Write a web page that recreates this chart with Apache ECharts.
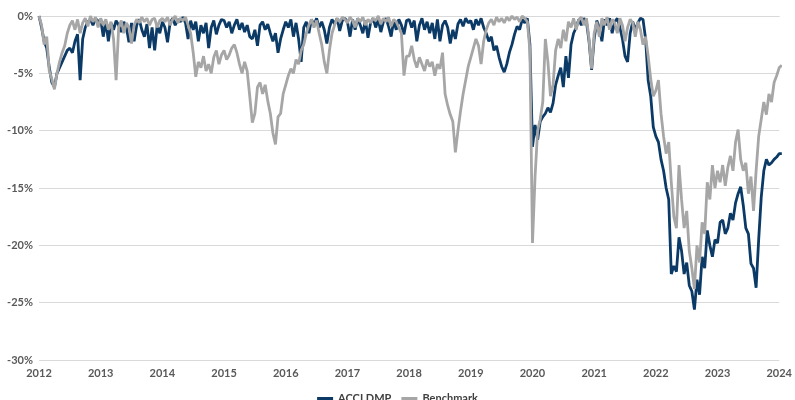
<!DOCTYPE html>
<html>
<head>
<meta charset="utf-8">
<script src="https://cdn.jsdelivr.net/npm/echarts@6/dist/echarts.min.js"></script>
<style>
  html, body { margin: 0; padding: 0; background: #fff; }
  #chart { width: 795px; height: 400px; }
</style>
</head>
<body>
<div id="chart"></div>
<script>
// drawdown in %, one value every half month starting Jan 2012
const startYear = 2012;
const pointsPerYear = 24;
const seriesNames = ['ACCI DMP', 'Benchmark'];
const yearTicks = [2012, 2013, 2014, 2015, 2016, 2017, 2018, 2019, 2020, 2021, 2022, 2023, 2024];

const acci = [
  // 2012
  0, -1.0, -2.2, -2.8, -4.5, -5.8, -6.2, -5.0, -4.5, -4.0, -3.5, -3.0, -2.8, -3.2, -2.2, -1.6, -5.6, -2.0, -1.0, -0.5, -0.3, -0.8, -0.2, -0.5,
  // 2013
  -0.3, -1.8, -0.5, -2.2, -0.6, -1.2, -0.4, -0.8, -1.4, -0.5, -1.0, -2.3, -0.6, -2.2, -0.8, -0.3, -1.2, -1.8, -0.7, -2.8, -1.0, -3.0, -0.8, -1.5,
  // 2014
  -0.5, -1.0, -2.3, -0.6, -0.2, -0.8, -0.3, -0.5, -0.1, -0.6, -2.0, -0.4, -1.2, -0.5, -2.2, -0.8, -1.5, -0.6, -2.8, -1.0, -0.4, -1.6, -0.8, -0.3,
  // 2015
  -0.4, -1.0, -0.5, -1.5, -0.8, -0.3, -1.2, -0.6, -1.4, -0.8, -1.8, -2.0, -1.2, -2.6, -0.8, -0.5, -1.2, -0.7, -1.5, -2.2, -1.5, -3.2, -2.0, -1.2,
  // 2016
  -0.5, -1.0, -0.3, -1.8, -0.6, -2.0, -4.0, -1.0, -0.5, -1.5, -0.3, -0.8, -0.2, -1.0, -0.5, -1.2, -2.4, -1.0, -0.3, -0.7, -0.2, -1.3, -0.4, -0.2,
  // 2017
  -0.5, -1.8, -0.3, -1.2, -0.2, -0.8, -1.5, -0.4, -1.9, -0.6, -0.2, -1.0, -0.3, -1.4, -0.5, -0.2, -0.9, -1.8, -0.4, -1.2, -0.3, -0.8, -1.6, -0.4,
  // 2018
  -0.3, -1.0, -0.4, -2.2, -0.8, -0.2, -1.2, -0.5, -1.5, -0.6, -2.0, -0.3, -2.2, -0.8, -0.4, -1.0, -2.4, -1.2, -2.0, -0.7, -0.3, -0.9, -0.2, -0.6,
  // 2019
  -0.4, -1.2, -0.3, -0.8, -0.2, -1.0, -1.5, -2.2, -1.8, -3.0, -2.6, -3.6, -4.4, -4.9, -4.2, -3.2, -2.5, -1.6, -0.9, -1.2, -0.3, -0.6, -0.2, -2.5,
  // 2020
  -11.4, -9.5, -10.8, -9.2, -8.8, -8.5, -8.0, -8.4, -7.6, -6.0, -5.2, -4.5, -6.2, -3.5, -5.4, -2.5, -1.5, -1.0, -0.3, -0.8, -0.2, -0.5, -2.2, -4.7,
  // 2021
  -2.0, -0.4, -1.0, -2.2, -0.3, -0.8, -0.2, -1.5, -0.5, -0.2, -1.0, -2.0, -3.5, -4.0, -1.5, -0.5, -1.2, -0.6, -0.2, -0.3, -2.0, -5.6, -7.0, -9.7,
  // 2022
  -10.5, -11.0, -12.5, -13.5, -15.0, -16.0, -22.5, -21.8, -22.3, -19.3, -20.5, -22.5, -21.5, -23.5, -24.0, -25.6, -23.0, -24.3, -21.0, -22.0, -18.7, -20.0, -21.0, -19.5,
  // 2023
  -19.8, -18.0, -17.8, -19.0, -18.5, -17.2, -17.8, -16.3, -15.5, -14.9, -16.5, -18.5, -19.0, -21.6, -22.0, -23.7, -19.5, -15.8, -13.5, -12.5, -13.0, -12.8, -12.5, -12.3,
  // 2024
  -12.0, -12.0
];

const bench = [
  // 2012
  0, -0.8, -2.5, -1.8, -4.8, -5.5, -6.4, -5.0, -4.0, -3.2, -2.6, -1.5, -0.8, -0.4, -1.2, -0.3, -1.5, -0.6, -0.2, -0.9, 0, -0.5, -0.1, -1.0,
  // 2013
  -0.2, -0.8, -0.3, -1.2, -0.5, -2.0, -5.6, -1.0, -0.4, -1.5, -0.6, -1.0, -2.4, -0.8, -0.3, -0.6, -0.1, -0.5, -0.2, -0.8, -0.3, -0.2, -1.0, -0.4,
  // 2014
  -0.2, -0.5, -0.1, -0.8, -0.3, 0, -0.6, -0.2, -0.4, -0.1, -0.8, -1.5, -3.2, -5.3, -4.0, -4.5, -3.5, -4.8, -4.2, -5.0, -3.6, -3.0, -4.2, -3.4,
  // 2015
  -3.0, -3.8, -3.4, -2.8, -2.5, -3.2, -4.2, -5.0, -4.0, -4.8, -7.0, -9.3, -8.5, -6.2, -5.8, -6.8, -6.0, -7.4, -8.5, -10.2, -11.2, -8.8, -8.5, -6.8,
  // 2016
  -6.0, -5.2, -4.6, -5.0, -3.8, -4.2, -3.0, -2.5, -1.5, -0.8, -0.3, -1.0, -0.4, -1.5, -2.5, -4.0, -5.0, -3.0, -1.5, -0.8, -0.2, -0.5, -0.1, -0.3,
  // 2017
  -0.6, -0.1, -0.4, -1.0, -0.2, -0.5, -0.1, -0.8, -0.3, -0.6, -0.2, -0.4, 0, -0.7, -0.2, -0.5, -0.1, -0.9, -0.3, -0.5, -1.0, -1.5, -5.2, -3.5,
  // 2018
  -3.5, -2.6, -3.8, -4.5, -3.6, -4.2, -4.8, -3.8, -4.4, -4.0, -5.2, -4.2, -4.6, -3.2, -6.8, -7.8, -8.6, -9.2, -11.9, -10.0, -8.3, -6.8, -5.6, -4.4,
  // 2019
  -3.6, -2.8, -2.0, -2.6, -4.2, -2.2, -1.2, -0.6, -0.3, -0.8, -0.1, -0.5, -0.2, -0.6, -0.1, -0.4, 0, -0.3, -0.1, -0.5, 0, -0.2, -0.5, -3.0,
  // 2020
  -19.8, -14.0, -10.0, -9.0, -7.5, -2.0, -4.0, -7.0, -6.0, -3.0, -2.0, -2.8, -1.2, -2.2, -0.5, -1.0, -0.2, -1.2, -0.3, -0.1, -0.8, -0.2, -2.0, -4.6,
  // 2021
  -1.5, -0.5, -1.8, -0.2, -0.8, -0.1, -1.2, -0.3, -0.6, -1.5, -0.2, -0.8, -2.2, -1.0, -0.3, -0.6, -1.8, -0.5, -1.2, -2.5, -1.8, -3.5, -5.5, -7.0,
  // 2022
  -6.5, -5.6, -8.5, -10.5, -12.0, -11.0, -14.5, -17.5, -18.5, -13.0, -16.0, -18.5, -17.0, -20.5, -22.0, -23.8, -20.0, -21.5, -18.0, -19.0, -14.5, -16.0, -13.0, -15.0,
  // 2023
  -13.5, -14.5, -13.0, -14.8, -13.2, -12.2, -13.5, -11.0, -9.9, -12.5, -13.5, -12.8, -15.5, -14.0, -17.0, -13.5, -10.5, -9.0, -7.5, -8.6, -6.8, -7.5, -5.8, -5.2,
  // 2024
  -4.5, -4.3
];

const toPoints = arr => arr.map((v, i) => [startYear + i / pointsPerYear, v]);

const labelStyle = {
  color: '#595959',
  fontSize: 11,
  fontWeight: 'bold',
  fontFamily: 'Lato, "Liberation Sans", sans-serif'
};

const chart = echarts.init(document.getElementById('chart'));
chart.setOption({
  animation: false,
  backgroundColor: '#fff',
  grid: { left: 39, right: 9, top: 16, bottom: 40, containLabel: false },
  legend: {
    data: seriesNames,
    bottom: -9,
    left: 'center',
    icon: 'rect',
    itemWidth: 16,
    itemHeight: 3,
    itemGap: 10,
    textStyle: { ...labelStyle, color: '#404040', fontSize: 11 }
  },
  xAxis: {
    type: 'value',
    min: yearTicks[0],
    max: yearTicks[yearTicks.length - 1],
    interval: 1,
    axisLine: { show: true, lineStyle: { color: '#d9d9d9' } },
    axisTick: { show: false },
    splitLine: { show: false },
    axisLabel: { ...labelStyle, margin: 8, formatter: v => String(v) }
  },
  yAxis: {
    type: 'value',
    min: -30,
    max: 0,
    interval: 5,
    axisLine: { show: false },
    axisTick: { show: false },
    splitLine: { lineStyle: { color: '#d9d9d9', width: 1 } },
    axisLabel: { ...labelStyle, margin: 6, formatter: v => v + '%' }
  },
  series: [
    {
      name: seriesNames[0],
      type: 'line',
      data: toPoints(acci),
      showSymbol: false,
      lineStyle: { color: '#0b3a66', width: 2.8 },
      itemStyle: { color: '#0b3a66' }
    },
    {
      name: seriesNames[1],
      type: 'line',
      data: toPoints(bench),
      showSymbol: false,
      lineStyle: { color: '#a6a6a6', width: 2.8 },
      itemStyle: { color: '#a6a6a6' }
    }
  ]
});
</script>
</body>
</html>
